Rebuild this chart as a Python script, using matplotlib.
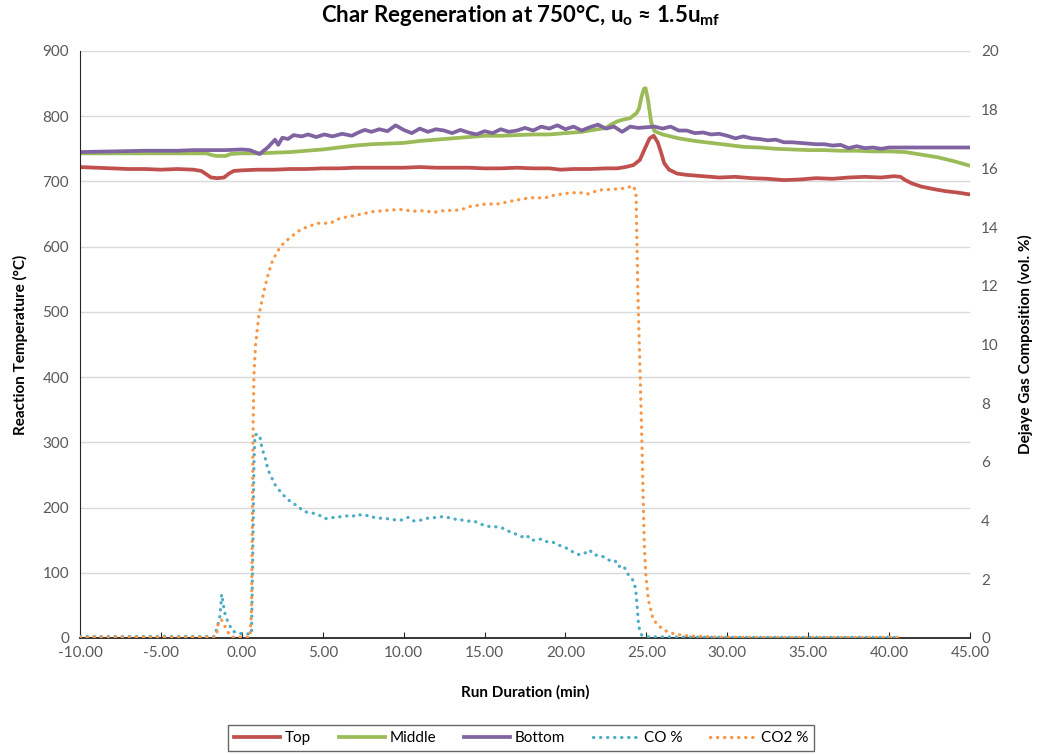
import matplotlib
matplotlib.use("Agg")
import matplotlib.pyplot as plt

plt.rcParams['font.family'] = ['Lato', 'DejaVu Sans']
plt.rcParams['mathtext.fontset'] = 'custom'
plt.rcParams['mathtext.rm'] = 'Lato'
plt.rcParams['mathtext.bf'] = 'Lato:bold'
plt.rcParams['mathtext.it'] = 'Lato:italic'

# bed temperatures (deg C) at three heights
t_top = [-10, -9, -8, -7, -6, -5, -4, -3,
         -2.5, -2.2, -1.9, -1.5, -1.1, -0.8, -0.5,
         0, 1, 2, 3, 4, 5, 6, 7, 8, 9, 10, 11, 12, 13, 14, 15, 16, 17, 18, 19,
         19.7, 20.5, 21.5, 22.5, 23.2, 23.7,
         24.2, 24.6, 24.9, 25.2, 25.45, 25.7, 25.9, 26.1, 26.4, 26.9,
         27.5, 28.5, 29.5, 30.5, 31.5, 32.5, 33.5, 34.5, 35.5, 36.5, 37.5, 38.5, 39.5,
         40.3, 40.7, 41.0, 41.4, 42, 42.8, 43.5, 44.2, 45]
top = [722, 721, 720, 719, 719, 718, 719, 718,
       716, 711, 706, 705, 706, 712, 716,
       717, 718, 718, 719, 719, 720, 720, 721, 721, 721, 721, 722, 721, 721, 721, 720, 720, 721, 720, 720,
       718, 719, 719, 720, 720, 722,
       725, 733, 750, 766, 770, 760, 745, 728, 718, 712,
       710, 708, 706, 707, 705, 704, 702, 703, 705, 704, 706, 707, 706,
       708, 707, 702, 697, 692, 688, 685, 683, 680]

t_mid = [-10, -8, -6, -4, -2.2,
         -1.8, -1.5, -1.0, -0.7,
         0, 1, 2, 3, 4, 5, 6, 7, 8, 9, 10, 11, 12, 13, 14, 15, 16, 17, 18, 19, 20, 21, 22,
         22.5, 22.8, 23.2, 23.6, 24.0, 24.4,
         24.55, 24.7, 24.85, 24.95, 25.1, 25.3, 25.5,
         26.0, 26.5,
         27, 28, 29, 30, 31, 32, 33, 34, 35, 36, 37, 38, 39, 40, 41, 42, 43, 44, 45]
mid = [743, 743, 743, 743, 743,
       740, 739, 739, 742,
       743, 743, 744, 745, 747, 749, 752, 755, 757, 758, 759, 762, 764, 766, 768, 770, 770, 771, 772, 772, 774, 776, 780,
       782, 787, 792, 795, 797, 805,
       812, 830, 842, 843, 825, 790, 777,
       772, 769,
       766, 762, 759, 756, 753, 752, 750, 749, 748, 748, 747, 747, 746, 746, 745, 741, 737, 731, 724]

t_bot = [-10, -8, -6, -4, -3, -2, -1, 0, 0.5, 1.1, 1.6, 2.05, 2.25, 2.5, 2.85,
         3.2, 3.7, 4.1, 4.6, 5.1, 5.6, 6.2, 6.8, 7.2, 7.6,
         8.0, 8.5, 9.0, 9.5, 10.0, 10.5, 11.0, 11.5, 12.0, 12.5,
         13.0, 13.5, 14.0, 14.5, 15.0, 15.5, 16.0, 16.5, 17.0, 17.5,
         18.0, 18.5, 19.0, 19.5, 20.0, 20.5, 21.0, 21.5, 22.0, 22.5,
         23.0, 23.5, 24.0, 24.5, 25.0, 25.5, 26.0, 26.5, 27.0, 27.5,
         28.0, 28.5, 29.0, 29.5, 30.0, 30.5, 31.0, 31.5, 32.0, 32.5,
         33.0, 33.5, 34.0, 34.5, 35.0, 35.5, 36.0, 36.5, 37.0, 37.5,
         38.0, 38.5, 39.0, 39.5, 40.0, 45.0]
bot = [745, 746, 747, 747, 748, 748, 748, 749, 748, 742, 752, 764, 756, 767, 765,
       771, 769, 772, 768, 772, 769, 773, 770, 775, 779,
       776, 780, 777, 786, 779, 774, 781, 776, 780, 778,
       774, 779, 775, 772, 777, 774, 780, 776, 778, 782,
       778, 784, 781, 786, 780, 784, 778, 783, 787, 781,
       784, 776, 784, 782, 783, 784, 781, 784, 778, 778,
       774, 775, 772, 773, 770, 766, 769, 766, 765, 763,
       764, 760, 760, 759, 758, 757, 757, 755, 756, 751,
       754, 751, 752, 750, 752, 752]

# gas analyser readings (vol. %)
t_co = [-10, -1.7, -1.56, -1.45, -1.35, -1.3, -1.25, -1.17, -1.08, -0.93,
        -0.59, -0.22, 0.2, 0.6, 0.68, 0.75, 0.81, 1.0, 1.12, 1.19,
        1.29, 1.43, 1.53, 1.64, 1.84, 1.99, 2.26, 2.5, 2.81, 3.12,
        3.47, 3.76, 4.11, 4.42, 4.77, 5.1, 5.4, 5.82, 6.17, 6.48,
        6.8, 7.14, 7.51, 7.86, 8.19, 8.5, 8.85, 9.22, 9.57, 9.9,
        10.29, 10.6, 10.96, 11.28, 11.63, 11.98, 12.35, 12.72, 13.07, 13.38,
        13.69, 14.06, 14.37, 14.72, 15.03, 15.34, 15.65, 15.96, 16.27, 16.62,
        16.93, 17.3, 17.6, 17.91, 18.22, 18.57, 18.88, 19.2, 19.55, 19.9,
        20.24, 20.55, 20.9, 21.2, 21.48, 21.77, 22.14, 22.45, 22.76, 23.07,
        23.27, 23.52, 23.72, 23.89, 24.15, 24.3, 24.36, 24.4, 24.44, 24.5,
        24.57, 24.71, 25.1, 30, 35, 40.7]
co = [0.05, 0.05, 0.3, 0.52, 0.75, 1.1, 1.49, 1.24, 0.9, 0.64,
      0.24, 0.16, 0.14, 0.14, 3.0, 6.0, 6.92, 6.95, 6.86, 6.61,
      6.38, 6.16, 5.93, 5.7, 5.47, 5.27, 5.07, 4.9, 4.74, 4.59,
      4.5, 4.33, 4.27, 4.25, 4.19, 4.07, 4.07, 4.13, 4.13, 4.16,
      4.13, 4.22, 4.16, 4.18, 4.1, 4.08, 4.08, 4.04, 4.02, 4.02,
      4.11, 3.99, 4.0, 4.05, 4.1, 4.1, 4.13, 4.11, 4.04, 4.06,
      4.0, 3.98, 3.98, 3.88, 3.84, 3.79, 3.79, 3.77, 3.71, 3.6,
      3.54, 3.45, 3.5, 3.32, 3.36, 3.37, 3.27, 3.27, 3.17, 3.1,
      3.02, 2.89, 2.83, 2.89, 3.0, 2.83, 2.81, 2.74, 2.63, 2.63,
      2.43, 2.48, 2.34, 2.15, 1.98, 1.75, 1.52, 1.26, 1.01, 0.56,
      0.3, 0.1, 0.04, 0.02, 0.02, 0.02]

t_co2 = [-10, -2, -1.7, -1.56, -1.45, -1.25, -1.04, -0.9, -0.75, -0.6,
         0.5, 0.6, 0.65, 0.7, 0.75, 0.85, 1.05, 1.43, 1.64, 1.91,
         2.36, 2.67, 2.94, 3.25, 3.6, 3.97, 4.67, 5.45, 6.07, 7.1,
         8.13, 9.16, 9.78, 10.6, 11.22, 11.84, 12.45, 13.49, 14.1, 15.13,
         15.75, 16.78, 17.81, 18.74, 19.05, 20.08, 20.8, 21.42, 22.04, 22.76,
         23.58, 24.2, 24.36, 24.47, 24.7, 24.87, 24.96, 25.12, 25.43, 26.05,
         26.77, 27.6, 29.4, 32, 36, 40.7]
co2 = [0.03, 0.03, 0.03, 0.1, 0.56, 0.61, 0.39, 0.24, 0.1, 0.03,
       0.03, 1.0, 4.0, 7.4, 9.0, 10.0, 11.0, 11.97, 12.42, 12.88,
       13.31, 13.5, 13.62, 13.76, 13.9, 13.99, 14.13, 14.13, 14.3, 14.41,
       14.53, 14.58, 14.6, 14.54, 14.56, 14.5, 14.56, 14.58, 14.7, 14.79,
       14.78, 14.9, 15.0, 14.99, 15.06, 15.15, 15.18, 15.13, 15.26, 15.28,
       15.32, 15.4, 15.17, 11.9, 7.2, 3.17, 2.2, 1.3, 0.61, 0.27,
       0.13, 0.07, 0.03, 0.02, 0.02, 0.02]

x_ticks = [-10, -5, 0, 5, 10, 15, 20, 25, 30, 35, 40, 45]
temp_ticks = list(range(0, 1000, 100))
gas_ticks = list(range(0, 22, 2))

fig = plt.figure(figsize=(10.38, 7.55), dpi=100)
ax = fig.add_axes([0.0771, 0.155, 0.8574, 0.7775])
ax2 = ax.twinx()

tick_grey = '#595959'
dots = (0, (0.1, 2.1))

l1, = ax.plot(t_top, top, color='#C0504D', lw=2.7, label='Top')
l2, = ax.plot(t_mid, mid, color='#9BBB59', lw=2.7, label='Middle')
l3, = ax.plot(t_bot, bot, color='#8064A2', lw=2.7, label='Bottom')
l4, = ax2.plot(t_co, co, color='#4BACC6', lw=2.3, linestyle=dots,
               dash_capstyle='round', label='CO %')
l5, = ax2.plot(t_co2, co2, color='#F79646', lw=2.3, linestyle=dots,
               dash_capstyle='round', label='CO2 %')

ax.set_xlim(-10, 45)
ax.set_ylim(0, 900)
ax2.set_ylim(0, 20)
ax.set_xticks(x_ticks)
ax.set_xticklabels(['%.2f' % v for v in x_ticks])
ax.set_yticks(temp_ticks)
ax2.set_yticks(gas_ticks)

ax.grid(axis='y', color='#D9D9D9', lw=1)
ax.set_axisbelow(True)

for a in (ax, ax2):
    for s in ('top', 'right'):
        a.spines[s].set_visible(False)
ax2.spines['left'].set_visible(False)
ax2.spines['bottom'].set_visible(False)
ax.spines['left'].set_color('#262626')
ax.spines['bottom'].set_color('#262626')
ax.spines['bottom'].set_linewidth(1.3)

ax.tick_params(axis='x', direction='in', length=4, color='#262626',
               labelsize=11, labelcolor=tick_grey, pad=6)
ax.tick_params(axis='y', length=0, labelsize=11, labelcolor=tick_grey, pad=8)
ax2.tick_params(axis='y', length=0, labelsize=11, labelcolor=tick_grey, pad=8)

ax.set_xlabel('Run Duration (min)', fontsize=11, fontweight='bold', labelpad=18)
ax.set_ylabel('Reaction Temperature (°C)', fontsize=11, fontweight='bold', labelpad=10)
ax2.set_ylabel('Dejaye Gas Composition (vol. %)', fontsize=11, fontweight='bold',
               rotation=90, labelpad=14)

fig.text(0.502, 0.979, r'Char Regeneration at 750°C, $\mathbf{u_o}$ ≈ 1.5$\mathbf{u_{mf}}$',
         ha='center', va='center', fontsize=16, fontweight='bold')

leg = fig.legend(handles=[l1, l2, l3, l4, l5], loc='center', ncol=5,
                 bbox_to_anchor=(0.502, 0.0225), fontsize=11, frameon=True,
                 fancybox=False, edgecolor='#404040', handlelength=3.0,
                 columnspacing=1.85, handletextpad=0.3, borderpad=0.4)
leg.get_frame().set_linewidth(1.0)

fig.savefig('out.png', dpi=100)
